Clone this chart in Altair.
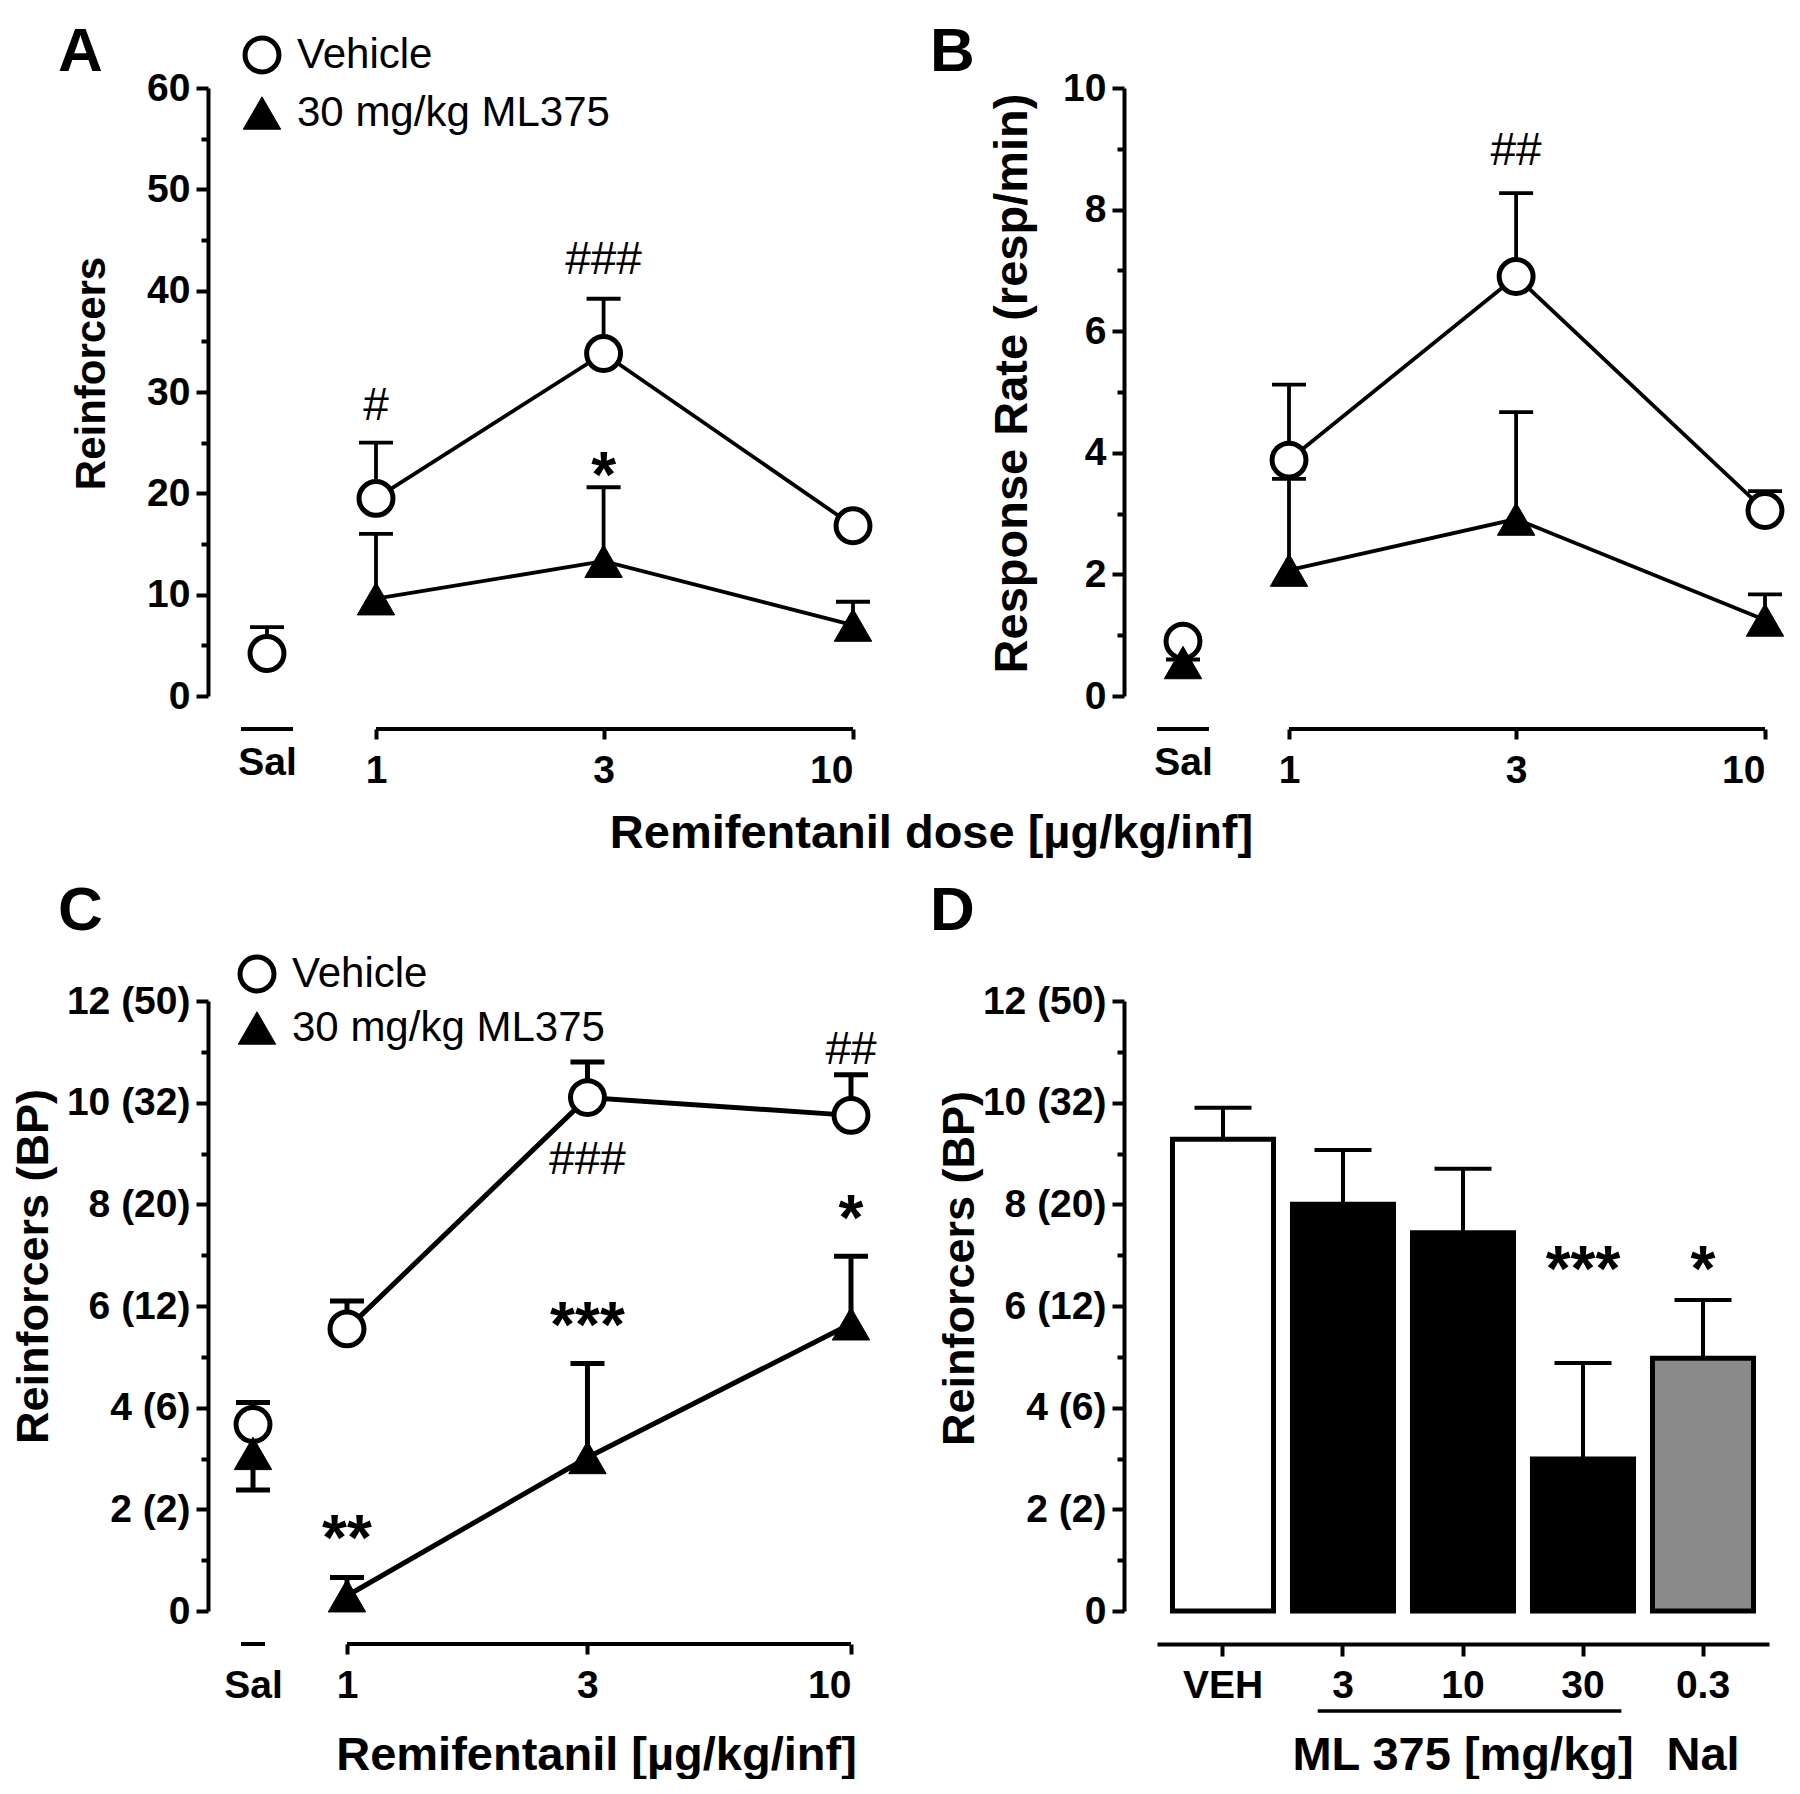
import altair as alt
import pandas as pd

FONT = "Liberation Sans"
BLACK = "#000000"

SERIES = ["Vehicle", "30 mg/kg ML375"]
SHAPES = ["circle", "triangle-up"]
FILLS = ["#ffffff", "#000000"]
STROKE_COLORS = ["#000000", "#000000"]
STROKES = [5, 1]
SIZES = [1150, 1400]
DOSES = [1, 3, 10]

# ---------------- Panel A : reinforcers ----------------
a_veh = [19.5, 33.8, 16.8]
a_veh_err = [25.0, 39.2, 17.4]
a_ml = [9.6, 13.3, 7.0]
a_ml_err = [16.0, 20.6, 9.3]
a_sal_veh = [4.2]
a_sal_veh_err = [6.8]
a_sal_ml = []
a_sal_ml_err = []
a_hash_text = ["#", "###"]
a_hash_dose = [1, 3]
a_hash_y = [27.2, 41.6]
a_star_text = ["*"]
a_star_dose = [3]
a_star_y = [19.6]

# ---------------- Panel B : response rate ----------------
b_veh = [3.88, 6.9, 3.05]
b_veh_err = [5.12, 8.27, 3.37]
b_ml = [2.07, 2.91, 1.25]
b_ml_err = [3.57, 4.67, 1.67]
b_sal_veh = [0.9]
b_sal_veh_err = [0.95]
b_sal_ml = [0.55]
b_sal_ml_err = [0.6]
b_hash_text = ["##"]
b_hash_dose = [3]
b_hash_y = [8.73]
b_star_text = []
b_star_dose = []
b_star_y = []

# ---------------- Panel C : reinforcers (BP) ----------------
c_veh = [5.55, 10.1, 9.75]
c_veh_err = [6.1, 10.8, 10.55]
c_ml = [0.3, 3.02, 5.65]
c_ml_err = [0.66, 4.87, 6.98]
c_sal_veh = [3.67]
c_sal_veh_err = [4.1]
c_sal_ml = [3.1]
c_sal_ml_err = [2.38]
c_hash_text = ["##", "###"]
c_hash_dose = [10, 3]
c_hash_y = [10.77, 8.6]
c_star_text = ["*", "***", "**"]
c_star_dose = [10, 3, 1]
c_star_y = [7.3, 5.2, 1.0]
bp_tick_vals = [0, 2, 4, 6, 8, 10, 12]
bp_tick_text = ["0", "2 (2)", "4 (6)", "6 (12)", "8 (20)", "10 (32)", "12 (50)"]

# ---------------- Panel D : bars ----------------
d_cats = ["VEH", "3", "10", "30", "0.3"]
d_vals = [9.28, 8.0, 7.44, 2.99, 4.97]
d_err = [9.9, 9.07, 8.7, 4.88, 6.12]
d_fills = ["#ffffff", "#000000", "#000000", "#000000", "#8a8a8a"]
d_star_text = ["***", "*"]
d_star_cat = ["30", "0.3"]
d_star_y = [6.3, 6.3]
d_group_text = ["ML 375 [mg/kg]", "Nal"]
d_group_at = ["10", "0.3"]
d_group_from = ["3"]
d_group_to = ["30"]

AXIS_STYLE = dict(domainColor=BLACK, domainWidth=4, tickColor=BLACK, tickWidth=4,
                  labelColor=BLACK, labelFont=FONT, labelFontSize=39, labelFontWeight="bold",
                  titleColor=BLACK, titleFont=FONT, titleFontWeight="bold",
                  grid=False)

INDEP = dict(x="independent", y="independent", shape="independent", size="independent",
             fill="independent", stroke="independent", strokeWidth="independent")
INDEP_LEG = dict(shape="independent", fill="independent", stroke="independent",
                 strokeWidth="independent", size="independent")
AX_OFF = 33


def ser_df(doses, veh, veh_err, ml, ml_err):
    rows = [dict(dose=d, series=SERIES[0], val=v, err=e) for d, v, e in zip(doses, veh, veh_err)]
    rows += [dict(dose=d, series=SERIES[1], val=v, err=e) for d, v, e in zip(doses, ml, ml_err)]
    return pd.DataFrame(rows)


def label_expr(vals, texts):
    expr = "''"
    for v, t in zip(vals, texts):
        expr = f"datum.value == {v} ? '{t}' : ({expr})"
    return expr


def y_axes(major, minor, ytitle, tx, ty, tsize, lexpr=None):
    kw = dict(values=major, orient="left", offset=AX_OFF, tickSize=12, labelPadding=6,
              title=ytitle, titleAngle=-90, titleX=tx, titleY=ty, titleFontSize=tsize,
              titleBaseline="middle", titleAlign="center", **AXIS_STYLE)
    if lexpr:
        kw["labelExpr"] = lexpr
    maj = alt.Axis(**kw)
    mino = alt.Axis(values=minor, orient="left", offset=AX_OFF, tickSize=7, labels=False,
                    domain=False, title=None, tickColor=BLACK, tickWidth=4, grid=False)
    return maj, mino


def letter_layer(letter, lx, ly):
    return alt.Chart(pd.DataFrame({"letter": [letter]})).mark_text(
        font=FONT, fontSize=62, fontWeight="bold", baseline="alphabetic", align="left",
        color=BLACK).encode(x=alt.value(lx), y=alt.value(ly), text="letter:N")


def text_df(xs, ys, texts, xname="dose"):
    return pd.DataFrame({xname: xs, "y": ys, "text": texts})


def symbol_enc(leg):
    return dict(
        shape=alt.Shape("series:N", scale=alt.Scale(domain=SERIES, range=SHAPES), legend=leg),
        fill=alt.Fill("series:N", scale=alt.Scale(domain=SERIES, range=FILLS), legend=leg),
        stroke=alt.Stroke("series:N", scale=alt.Scale(domain=SERIES, range=STROKE_COLORS), legend=leg),
        strokeWidth=alt.StrokeWidth("series:N", scale=alt.Scale(domain=SERIES, range=STROKES), legend=leg),
        size=alt.Size("series:N", scale=alt.Scale(domain=SERIES, range=SIZES), legend=leg),
    )


def line_panel(sal, main, hashes, stars, ymax, major, minor, ytitle, tx, ty, ytsize,
               sal_pos, sal_half, sal_pad, width, h, letter, let_xy, leg_xy, leg_pad, lw,
               xtitle=None, xtx=None, xty=None, lexpr=None):
    # the saline group sits on its own short segment left of the dose axis (log decades)
    sal_dose = 10 ** sal_pos
    sal_lo, sal_hi = 10 ** (sal_pos - sal_half), 10 ** (sal_pos + sal_half)
    sal = sal.assign(dose=sal_dose)
    pts = pd.concat([sal, main], ignore_index=True)

    yscale = alt.Scale(domain=[0, ymax], nice=False, zero=True)
    xscale = alt.Scale(type="log", domain=[sal_lo, 10], nice=False)
    maj, mino = y_axes(major, minor, ytitle, tx, ty, ytsize, lexpr)

    xkw = dict(values=DOSES, format="d", tickSize=10, labelPadding=12, offset=AX_OFF,
               domain=False, orient="bottom", **AXIS_STYLE)
    if xtitle:
        xkw.update(title=xtitle, titleX=xtx, titleY=xty, titleBaseline="middle", titleFontSize=47)
    else:
        xkw["title"] = None
    x_main = alt.X("dose:Q", scale=xscale, axis=alt.Axis(**xkw))
    x_sal = alt.X("dose:Q", scale=xscale, axis=alt.Axis(
        values=[sal_dose], labelExpr="'Sal'", ticks=False, tickSize=0, labelPadding=sal_pad,
        offset=AX_OFF, domain=False, orient="bottom", title=None, **AXIS_STYLE))
    x_none = lambda f="dose:Q": alt.X(f, scale=xscale, axis=None)
    ny = lambda f: alt.Y(f, scale=yscale, axis=None)

    if leg_xy is None:
        leg = None
    else:
        leg = alt.Legend(title=None, orient="none", legendX=leg_xy[0], legendY=leg_xy[1],
                         direction="vertical", labelFont=FONT, labelFontSize=42,
                         labelColor=BLACK, labelFontWeight="normal",
                         labelLimit=1000, rowPadding=leg_pad, labelOffset=14, padding=0)

    segs = pd.DataFrame({"x": [sal_lo, DOSES[0]], "x2": [sal_hi, DOSES[-1]]})
    seg = alt.Chart(segs).mark_rule(color=BLACK, strokeWidth=4).encode(
        x=x_none("x:Q"), x2="x2:Q", y=alt.value(h + AX_OFF))

    line = alt.Chart(main).mark_line(color=BLACK, strokeWidth=lw).encode(
        x=x_none(), y=ny("val:Q"), detail="series:N")
    rule = alt.Chart(pts).mark_rule(color=BLACK, strokeWidth=lw).encode(
        x=x_sal, y=alt.Y("val:Q", scale=yscale, axis=mino), y2="err:Q")
    cap = alt.Chart(pts).mark_tick(color=BLACK, orient="horizontal", size=34, thickness=lw,
                                   opacity=1).encode(x=x_none(), y=ny("err:Q"))
    pt = alt.Chart(pts).mark_point(filled=True, opacity=1).encode(
        x=x_main, y=alt.Y("val:Q", scale=yscale, axis=maj), **symbol_enc(leg))
    layers = [seg, line, rule, cap, pt]
    if len(hashes):
        layers.append(alt.Chart(hashes).mark_text(font=FONT, fontSize=46, fontWeight="normal",
                                                  baseline="alphabetic", align="center", color=BLACK)
                      .encode(x=x_none(), y=ny("y:Q"), text="text:N"))
    if len(stars):
        layers.append(alt.Chart(stars).mark_text(font=FONT, fontSize=64, fontWeight="bold",
                                                 baseline="alphabetic", align="center", color=BLACK)
                      .encode(x=x_none(), y=ny("y:Q"), text="text:N"))
    layers.append(letter_layer(letter, *let_xy))
    return alt.layer(*layers).resolve_axis(x="independent", y="independent") \
        .properties(width=width, height=h)


H1 = 608
H2 = 610
bp_expr = label_expr(bp_tick_vals, bp_tick_text)

A = line_panel(
    ser_df([None] * max(len(a_sal_veh), len(a_sal_ml)), a_sal_veh, a_sal_veh_err, a_sal_ml, a_sal_ml_err),
    ser_df(DOSES, a_veh, a_veh_err, a_ml, a_ml_err),
    text_df(a_hash_dose, a_hash_y, a_hash_text), text_df(a_star_dose, a_star_y, a_star_text),
    60, list(range(0, 61, 10)), list(range(5, 60, 10)), "Reinforcers", -117, 285, 42,
    -0.2285, 0.0545, 14, 612, H1, "A", (-183, -17), (0, -54), 10, 3.8,
    xtitle="Remifentanil dose [µg/kg/inf]", xtx=690, xty=104)

B = line_panel(
    ser_df([None], b_sal_veh, b_sal_veh_err, b_sal_ml, b_sal_ml_err),
    ser_df(DOSES, b_veh, b_veh_err, b_ml, b_ml_err),
    text_df(b_hash_dose, b_hash_y, b_hash_text), text_df(b_star_dose, b_star_y, b_star_text),
    10, list(range(0, 11, 2)), list(range(1, 10, 2)), "Response Rate (resp/min)", -112, 295, 47,
    -0.2227, 0.0546, 14, 608, H1, "B", (-227, -17), None, 10, 3.8)

C = line_panel(
    ser_df([None], c_sal_veh, c_sal_veh_err, c_sal_ml, c_sal_ml_err),
    ser_df(DOSES, c_veh, c_veh_err, c_ml, c_ml_err),
    text_df(c_hash_dose, c_hash_y, c_hash_text), text_df(c_star_dose, c_star_y, c_star_text),
    12, bp_tick_vals, list(range(1, 12, 2)), "Reinforcers (BP)", -175, 265, 45,
    -0.1865, 0.0238, 22, 610, H2, "C", (-183, -71), (-5, -48), 6, 5,
    xtitle="Remifentanil [µg/kg/inf]", xtx=355, xty=111, lexpr=bp_expr)

# ---------------- Panel D ----------------
d_df = pd.DataFrame({"cat": d_cats, "val": d_vals, "err": d_err})
d_y = alt.Scale(domain=[0, 12], nice=False, zero=True)
d_maj, d_min = y_axes(bp_tick_vals, list(range(1, 12, 2)), "Reinforcers (BP)", -165, 267, 45, bp_expr)
d_xscale = alt.Scale(domain=d_cats, paddingInner=0.158, paddingOuter=0.129)
d_xaxis = alt.Axis(title=None, tickSize=12, labelPadding=10, offset=AX_OFF, labelAngle=0, **AXIS_STYLE)
dx = lambda f: alt.X(f, scale=d_xscale, axis=d_xaxis)
dy = lambda f: alt.Y(f, scale=d_y, axis=None)

d_bars = alt.Chart(d_df).mark_bar(stroke=BLACK, strokeWidth=5).encode(
    x=dx("cat:N"), y=alt.Y("val:Q", scale=d_y, axis=d_maj),
    fill=alt.Fill("cat:N", scale=alt.Scale(domain=d_cats, range=d_fills), legend=None))
d_rule = alt.Chart(d_df).mark_rule(color=BLACK, strokeWidth=4).encode(
    x=dx("cat:N"), y=alt.Y("val:Q", scale=d_y, axis=d_min), y2="err:Q")
d_cap = alt.Chart(d_df).mark_tick(color=BLACK, orient="horizontal", size=57, thickness=4, opacity=1).encode(
    x=dx("cat:N"), y=dy("err:Q"))
d_stars = alt.Chart(text_df(d_star_cat, d_star_y, d_star_text, "cat")).mark_text(
    font=FONT, fontSize=64, fontWeight="bold", baseline="alphabetic", align="center", color=BLACK
).encode(x=dx("cat:N"), y=dy("y:Q"), text="text:N")
d_grp_line = alt.Chart(pd.DataFrame({"cat": d_group_from, "cat_to": d_group_to})).mark_rule(
    color=BLACK, strokeWidth=3.5).encode(
    x=alt.X("cat:N", scale=d_xscale, axis=d_xaxis, bandPosition=0.25),
    x2=alt.X2("cat_to:N", bandPosition=0.88),
    y=alt.value(H2 + 100))
d_grp_text = alt.Chart(pd.DataFrame({"cat": d_group_at, "text": d_group_text})).mark_text(
    font=FONT, fontSize=47, fontWeight="bold", baseline="middle", align="center", color=BLACK
).encode(x=dx("cat:N"), y=alt.value(H2 + 145), text="text:N")

D = alt.layer(d_bars, d_rule, d_cap, d_stars, d_grp_line, d_grp_text,
              letter_layer("D", -227, -71)).resolve_axis(
    y="independent").properties(width=612, height=H2)

chart = alt.concat(A, B, C, D, columns=2, spacing={"row": 305, "column": 304},
                   bounds="flush") \
    .resolve_scale(**INDEP).resolve_legend(**INDEP_LEG) \
    .properties(padding={"left": 2, "top": 13, "right": 0, "bottom": 0}) \
    .configure_view(stroke=None)

chart.save("out.html", embed_options={"renderer": "svg", "actions": False})
